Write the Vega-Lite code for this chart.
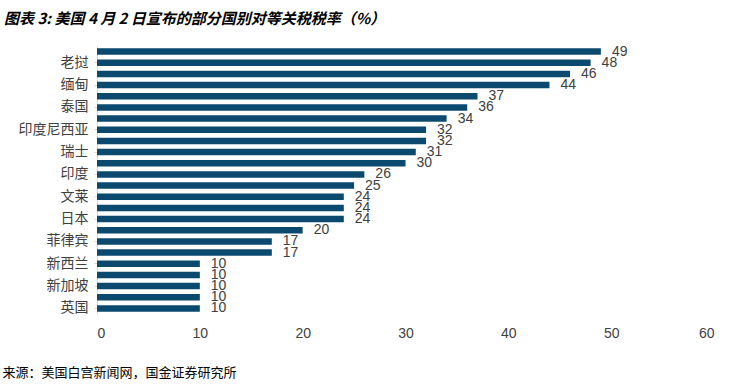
{
  "$schema": "https://vega.github.io/schema/vega-lite/v6.json",
  "autosize": "none",
  "width": 617,
  "height": 268,
  "padding": {"left": 97, "top": 46, "right": 18, "bottom": 73},
  "background": "white",
  "title": {
    "text": "图表 3: 美国 4 月 2 日宣布的部分国别对等关税税率（%）",
    "anchor": "start",
    "frame": "group",
    "dx": -93,
    "offset": 18,
    "font": "Noto Sans CJK SC",
    "fontSize": 15,
    "fontWeight": "bold",
    "fontStyle": "italic",
    "color": "#000000"
  },
  "config": {"view": {"stroke": null}},
  "data": {
    "values": [
      {"rank": 1, "country": "柬埔寨", "rate": 49},
      {"rank": 2, "country": "老挝", "rate": 48},
      {"rank": 3, "country": "越南", "rate": 46},
      {"rank": 4, "country": "缅甸", "rate": 44},
      {"rank": 5, "country": "孟加拉国", "rate": 37},
      {"rank": 6, "country": "泰国", "rate": 36},
      {"rank": 7, "country": "中国", "rate": 34},
      {"rank": 8, "country": "印度尼西亚", "rate": 32},
      {"rank": 9, "country": "中国台湾", "rate": 32},
      {"rank": 10, "country": "瑞士", "rate": 31},
      {"rank": 11, "country": "南非", "rate": 30},
      {"rank": 12, "country": "印度", "rate": 26},
      {"rank": 13, "country": "韩国", "rate": 25},
      {"rank": 14, "country": "文莱", "rate": 24},
      {"rank": 15, "country": "马来西亚", "rate": 24},
      {"rank": 16, "country": "日本", "rate": 24},
      {"rank": 17, "country": "欧盟", "rate": 20},
      {"rank": 18, "country": "菲律宾", "rate": 17},
      {"rank": 19, "country": "以色列", "rate": 17},
      {"rank": 20, "country": "新西兰", "rate": 10},
      {"rank": 21, "country": "澳大利亚", "rate": 10},
      {"rank": 22, "country": "新加坡", "rate": 10},
      {"rank": 23, "country": "巴西", "rate": 10},
      {"rank": 24, "country": "英国", "rate": 10}
    ]
  },
  "encoding": {
    "y": {
      "field": "country",
      "type": "nominal",
      "sort": {"field": "rank", "op": "min", "order": "ascending"},
      "scale": {"paddingInner": 0.42, "paddingOuter": 0.21},
      "axis": {
        "title": null,
        "values": ["老挝", "缅甸", "泰国", "印度尼西亚", "瑞士", "印度", "文莱", "日本", "菲律宾", "新西兰", "新加坡", "英国"],
        "labelFont": "Noto Sans CJK SC",
        "labelFontSize": 14,
        "labelColor": "#404040",
        "labelPadding": 6,
        "labelOverlap": false,
        "domainColor": "#d9d9d9",
        "tickColor": "#d9d9d9",
        "tickSize": 3
      }
    },
    "x": {
      "field": "rate",
      "type": "quantitative",
      "scale": {"domain": [0, 60]},
      "axis": {
        "title": "来源：美国白宫新闻网，国金证券研究所",
        "titleAnchor": "start",
        "titleX": -95,
        "titleY": 58,
        "titleFont": "Noto Sans CJK SC",
        "titleFontSize": 13,
        "titleFontWeight": "normal",
        "titleColor": "#000000",
        "titleBaseline": "middle",
        "values": [0, 10, 20, 30, 40, 50, 60],
        "grid": false,
        "domain": false,
        "ticks": false,
        "labelFont": "Liberation Sans",
        "labelFontSize": 14,
        "labelColor": "#404040",
        "labelPadding": 12
      }
    }
  },
  "layer": [
    {"mark": {"type": "bar", "color": "#0b4a6e"}},
    {
      "mark": {"type": "text", "align": "left", "dx": 11, "dy": 0, "font": "Liberation Sans", "fontSize": 14, "color": "#404040"},
      "encoding": {"text": {"field": "rate", "type": "quantitative"}}
    }
  ]
}
